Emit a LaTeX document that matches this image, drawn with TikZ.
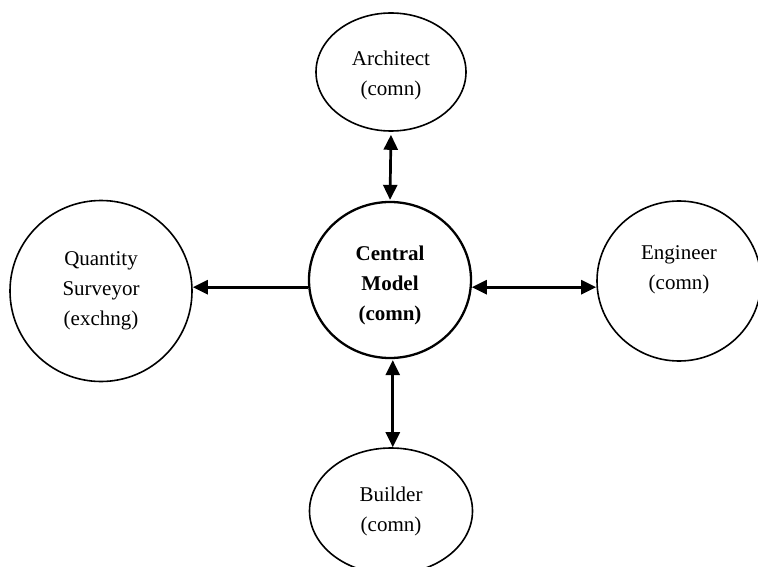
\documentclass[tikz,border=0pt]{standalone}
\usepackage{fontspec}
\setmainfont{Liberation Serif}
\usetikzlibrary{shapes.geometric,arrows.meta}
\begin{document}
\begin{tikzpicture}[x=1pt,y=-1pt,
  txt/.style={align=center, inner sep=0pt, font=\fontsize{21}{30}\selectfont},
  bub/.style={draw, ellipse, line width=1.6pt, inner sep=0pt},
  ctr/.style={bub, line width=2.3pt},
  arr/.style={line width=2.7pt, -{Triangle[length=15pt,width=14pt]}},
  darr/.style={line width=2.7pt, {Triangle[length=15pt,width=14pt]}-{Triangle[length=15pt,width=14pt]}}
]
\useasboundingbox (0,0) rectangle (758,567);
\node[ctr, minimum width=162pt, minimum height=156pt,
  label={[txt, font=\fontsize{21}{30}\selectfont\bfseries, yshift=-5pt]center:{Central\\Model\\(comn)}}] (central) at (390,280) {};
\node[bub, minimum width=150pt, minimum height=118pt,
  label={[txt, yshift=-3pt]center:{Architect\\(comn)}}] (arch) at (391,72) {};
\node[bub, minimum width=182pt, minimum height=181pt,
  label={[txt]center:{Quantity\\Surveyor\\(exchng)}}] (qs) at (101,291) {};
\node[bub, minimum width=164pt, minimum height=160pt,
  label={[txt, yshift=11pt]center:{Engineer\\(comn)}}] (eng) at (679,281) {};
\node[bub, minimum width=163pt, minimum height=126pt,
  label={[txt]center:{Builder\\(comn)}}] (bld) at (391,511) {};
\draw[darr, shorten <=3pt, shorten >=1pt] (arch.south) -- (central.north);
\draw[arr] (central.185) -- (qs.east |- central.185);
\draw[darr] (central.355) -- (eng.west |- central.355);
\draw[darr, shorten <=1pt] (central.272) -- (bld.north -| central.272);
\end{tikzpicture}
\end{document}
